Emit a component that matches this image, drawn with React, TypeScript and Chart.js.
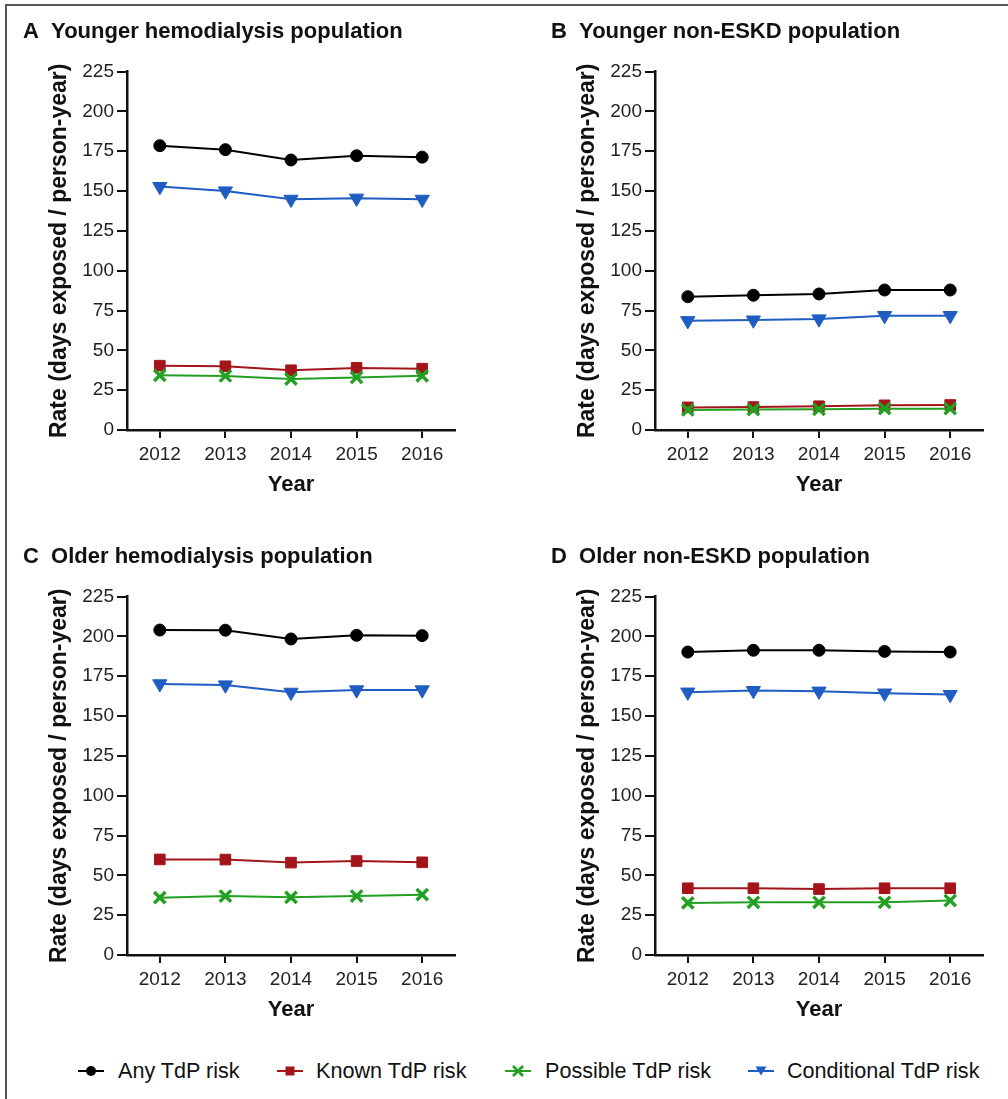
import React, { useEffect, useRef } from "react";
import { Chart, registerables } from "chart.js";

Chart.register(...registerables);

// ---------- data ----------
const years = ["2012", "2013", "2014", "2015", "2016"];
const seriesNames = ["Any TdP risk", "Known TdP risk", "Possible TdP risk", "Conditional TdP risk"];
const yTickValues = [0, 25, 50, 75, 100, 125, 150, 175, 200, 225];
const panelTitles = [
  "A  Younger hemodialysis population",
  "B  Younger non-ESKD population",
  "C  Older hemodialysis population",
  "D  Older non-ESKD population",
];
const xAxisTitle = "Year";
const yAxisTitle = "Rate (days exposed / person-year)";

// Panel A: younger hemodialysis
const anyA = [178.5, 176, 169.5, 172.2, 171.3];
const knownA = [40.4, 40, 37.5, 39, 38.5];
const possibleA = [34.3, 33.9, 32, 33, 34];
const conditionalA = [152.8, 150, 144.8, 145.5, 144.8];

// Panel B: younger non-ESKD
const anyB = [83.7, 84.6, 85.4, 87.9, 87.9];
const knownB = [14.2, 14.4, 14.9, 15.5, 15.7];
const possibleB = [12.6, 12.8, 13, 13.4, 13.4];
const conditionalB = [68.6, 69, 69.7, 71.8, 71.8];

// Panel C: older hemodialysis
const anyC = [204, 203.9, 198.4, 200.7, 200.5];
const knownC = [60, 59.9, 58, 59, 58.2];
const possibleC = [36, 37, 36.2, 37, 37.9];
const conditionalC = [170.2, 169.5, 164.9, 166.4, 166.4];

// Panel D: older non-ESKD
const anyD = [190.2, 191.3, 191.3, 190.6, 190.2];
const knownD = [41.9, 41.9, 41.4, 41.9, 41.9];
const possibleD = [32.7, 33.1, 33.1, 33.1, 34.2];
const conditionalD = [165, 166, 165.6, 164.4, 163.5];

// ---------- styles ----------
const FONT = "'Liberation Sans', Arial, Helvetica, sans-serif";
const COLORS = ["#000000", "#a3151a", "#22a022", "#1f5dc2"];

const panels = [
  { title: panelTitles[0], series: [anyA, knownA, possibleA, conditionalA], left: 8, top: 8 },
  { title: panelTitles[1], series: [anyB, knownB, possibleB, conditionalB], left: 536, top: 8 },
  { title: panelTitles[2], series: [anyC, knownC, possibleC, conditionalC], left: 8, top: 533 },
  { title: panelTitles[3], series: [anyD, knownD, possibleD, conditionalD], left: 536, top: 533 },
];

const CW = 470;
const CH = 492;

function pointStyleFor(i: number): any {
  return ["circle", "rect", "crossRot", "triangle"][i];
}

function Panel({ title, series, left, top }: any) {
  const ref = useRef<HTMLCanvasElement | null>(null);
  useEffect(() => {
    if (!ref.current) return;
    const datasets = series.map((vals: number[], i: number) => ({
      label: seriesNames[i],
      data: vals,
      borderColor: COLORS[i],
      backgroundColor: COLORS[i],
      borderWidth: 2,
      pointStyle: pointStyleFor(i),
      pointRadius: [6, 7.5, 8, 8.2][i],
      pointBorderWidth: i === 2 ? 3.4 : 1,
      pointRotation: i === 3 ? 180 : 0,
      pointBackgroundColor: COLORS[i],
      pointBorderColor: COLORS[i],
      tension: 0,
      clip: false,
    }));
    // draw order: conditional, possible, known, any (any on top)
    const ordered = [datasets[3], datasets[2], datasets[1], datasets[0]];
    const chart = new Chart(ref.current, {
      type: "line",
      data: { labels: years, datasets: ordered },
      options: {
        animation: false,
        responsive: false,
        devicePixelRatio: 1,
        layout: { padding: { left: 15, right: 23, top: 0, bottom: 0 } },
        plugins: {
          legend: { display: false },
          tooltip: { enabled: false },
          title: {
            display: true,
            text: title,
            align: "start",
            color: "#111",
            font: { family: FONT, size: 22, weight: "bold" },
            padding: { top: 10.8, bottom: 26.4 },
          },
        },
        scales: {
          x: {
            type: "category",
            offset: true,
            afterFit: (s: any) => {
              s.height = 70;
            },
            grid: {
              display: true,
              drawOnChartArea: false,
              drawTicks: true,
              tickLength: 8,
              color: "#111",
              lineWidth: 2,
              offset: false,
            },
            border: { display: true, color: "#111", width: 2.5 },
            ticks: { color: "#222", font: { family: FONT, size: 19 }, padding: 5, maxRotation: 0 },
            title: {
              display: true,
              text: xAxisTitle,
              color: "#111",
              font: { family: FONT, size: 22, weight: "bold" },
              padding: { top: 0, bottom: 1.5 },
            },
          },
          y: {
            min: 0,
            max: 225,
            afterFit: (s: any) => {
              s.width = 104;
            },
            afterBuildTicks: (s: any) => {
              s.ticks = yTickValues.map((v) => ({ value: v }));
            },
            grid: {
              display: true,
              drawOnChartArea: false,
              drawTicks: true,
              tickLength: 10,
              color: "#111",
              lineWidth: 2,
            },
            border: { display: true, color: "#111", width: 2.5 },
            ticks: { color: "#222", font: { family: FONT, size: 19 }, padding: 3 },
            title: {
              display: true,
              text: yAxisTitle,
              color: "#111",
              font: { family: FONT, size: 23, weight: "bold" },
              padding: { top: 23.2, bottom: 0 },
            },
          },
        },
      },
    });
    return () => chart.destroy();
  }, [title, series]);
  return (
    <canvas
      ref={ref}
      width={CW}
      height={CH}
      style={{ position: "absolute", left, top, width: CW, height: CH }}
    />
  );
}

function LegendMarker({ i }: { i: number }) {
  const c = COLORS[i];
  let mark: any = null;
  if (i === 0) mark = <circle cx={13} cy={10} r={5} fill={c} />;
  if (i === 1) mark = <rect x={8.5} y={5.5} width={9} height={9} fill={c} />;
  if (i === 2)
    mark = (
      <g stroke={c} strokeWidth={2.6}>
        <line x1={8} y1={5} x2={18} y2={15} />
        <line x1={18} y1={5} x2={8} y2={15} />
      </g>
    );
  if (i === 3) mark = <polygon points="7.5,5.5 18.5,5.5 13,14.5" fill={c} />;
  return (
    <svg width={26} height={20} style={{ display: "block" }}>
      <line x1={0} y1={10} x2={26} y2={10} stroke={c} strokeWidth={2} />
      {mark}
    </svg>
  );
}

const legendPos = [
  { marker: 78, text: 118 },
  { marker: 277, text: 316 },
  { marker: 505, text: 545 },
  { marker: 748, text: 787 },
];

export default function App() {
  return (
    <div
      style={{
        position: "absolute",
        left: 0,
        top: 0,
        width: 1008,
        height: 1099,
        overflow: "hidden",
        background: "#fff",
        fontFamily: FONT,
      }}
    >
      <div
        style={{
          position: "absolute",
          left: 5,
          top: 4,
          width: 1010,
          height: 1110,
          borderTop: "2px solid #555",
          borderLeft: "2px solid #555",
        }}
      />
      {panels.map((p, i) => (
        <Panel key={i} {...p} />
      ))}
      {seriesNames.map((name, i) => (
        <React.Fragment key={name}>
          <div style={{ position: "absolute", left: legendPos[i].marker, top: 1061 }}>
            <LegendMarker i={i} />
          </div>
          <div
            style={{
              position: "absolute",
              left: legendPos[i].text,
              top: 1057,
              fontSize: 21.6,
              lineHeight: "28px",
              color: "#111",
              whiteSpace: "nowrap",
            }}
          >
            {name}
          </div>
        </React.Fragment>
      ))}
    </div>
  );
}
